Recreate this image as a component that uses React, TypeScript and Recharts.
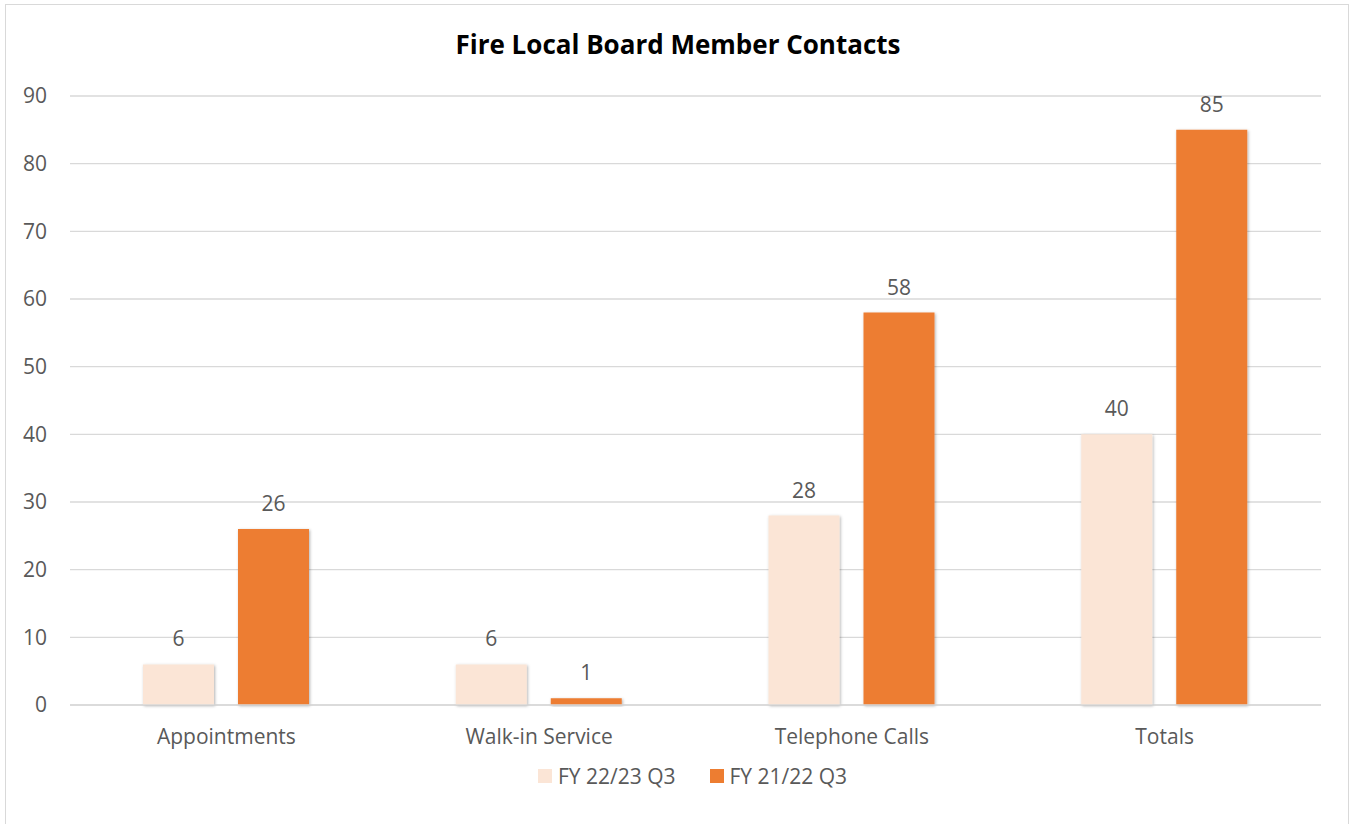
import React from 'react';
import { BarChart, Bar, XAxis, YAxis, CartesianGrid, Legend, LabelList } from 'recharts';

const categories = ['Appointments', 'Walk-in Service', 'Telephone Calls', 'Totals'];
const fy2223Q3 = [6, 6, 28, 40];
const fy2122Q3 = [26, 1, 58, 85];
const yTicks = [0, 10, 20, 30, 40, 50, 60, 70, 80, 90];

const LIGHT = '#FBE5D6';
const DARK = '#ED7D31';
const TEXT = '#595959';
const FONT = '"Open Sans", sans-serif';

const chartData = categories.map((name, i) => ({
    name,
    'FY 22/23 Q3': fy2223Q3[i],
    'FY 21/22 Q3': fy2122Q3[i],
}));

// legend sits a little right of centre in the original
const LegendContent = () => (
    <div style={{ display: 'flex', justifyContent: 'center', height: 24, alignItems: 'center', paddingLeft: 64, fontFamily: FONT, fontSize: 21, color: TEXT }}>
        {[['FY 22/23 Q3', LIGHT], ['FY 21/22 Q3', DARK]].map(([label, color], i) => (
            <div key={label} style={{ display: 'flex', alignItems: 'center', marginLeft: i ? 34 : 0 }}>
                <span style={{ width: 14, height: 14, background: color, marginRight: 6, display: 'inline-block' }} />
                <span>{label}</span>
            </div>
        ))}
    </div>
);

const App: React.FC = () => {
    return (
        <div style={{ position: 'absolute', left: 0, top: 0, width: 1356, height: 824, background: '#fff', overflow: 'hidden' }}>
            <div style={{ position: 'absolute', left: 5, top: 4, width: 1344, height: 840, border: '1px solid #D9D9D9', boxSizing: 'border-box' }} />
            <div style={{ position: 'absolute', left: 0, top: 26, width: 1356, textAlign: 'center', fontFamily: FONT, fontWeight: 700, fontSize: 26, lineHeight: 'normal', color: '#000' }}>
                Fire Local Board Member Contacts
            </div>
            <div style={{ position: 'absolute', left: 0, top: 0 }}>
                <BarChart
                    width={1356}
                    height={824}
                    data={chartData}
                    margin={{ top: 96, right: 35, left: 0, bottom: 36 }}
                    barGap={24}
                    barSize={71}
                >
                    <defs>
                        <filter id="barShadow" x="-20%" y="-20%" width="140%" height="140%">
                            <feDropShadow dx="1" dy="1" stdDeviation="1.5" floodColor="#000" floodOpacity="0.3" />
                        </filter>
                    </defs>
                    <CartesianGrid vertical={false} stroke="#D9D9D9" strokeWidth={1.3} />
                    <XAxis
                        dataKey="name"
                        axisLine={{ stroke: '#D9D9D9', strokeWidth: 1.3 }}
                        tickLine={false}
                        tickSize={0}
                        tickMargin={24}
                        height={59}
                        tick={{ fill: TEXT, fontSize: 21, fontFamily: FONT }}
                    />
                    <YAxis
                        domain={[0, 90]}
                        ticks={yTicks}
                        width={70}
                        axisLine={false}
                        tickLine={false}
                        tickSize={0}
                        tickMargin={23}
                        tick={{ fill: TEXT, fontSize: 21, fontFamily: FONT }}
                    />
                    <Legend verticalAlign="bottom" content={<LegendContent />} />
                    <Bar dataKey="FY 22/23 Q3" fill={LIGHT} isAnimationActive={false} filter="url(#barShadow)">
                        <LabelList dataKey="FY 22/23 Q3" position="top" offset={18} fill={TEXT} fontSize={21} fontFamily={FONT} />
                    </Bar>
                    <Bar dataKey="FY 21/22 Q3" fill={DARK} isAnimationActive={false} filter="url(#barShadow)">
                        <LabelList dataKey="FY 21/22 Q3" position="top" offset={18} fill={TEXT} fontSize={21} fontFamily={FONT} />
                    </Bar>
                </BarChart>
            </div>
        </div>
    );
};

export default App;
